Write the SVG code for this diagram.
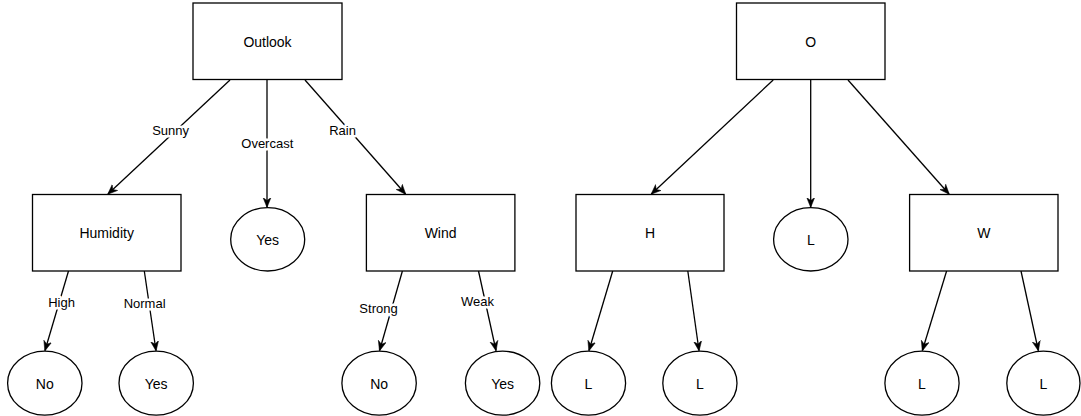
<svg xmlns="http://www.w3.org/2000/svg" width="1081" height="416" viewBox="0 0 1081 416">
<style>
.n{fill:#fff;stroke:#000;stroke-width:1.3}
.t{font-family:"Liberation Sans",Arial,sans-serif;font-size:14px;fill:#000;text-anchor:middle;dominant-baseline:central}
.e{stroke:#000;stroke-width:1.3;fill:none;marker-end:url(#a)}
.l{font-family:"Liberation Sans",Arial,sans-serif;font-size:13px;fill:#000;text-anchor:middle;dominant-baseline:central;stroke:#fff;stroke-width:5;paint-order:stroke;stroke-linejoin:round}
</style>
<defs>
<marker id="a" viewBox="0 0 10 10" refX="9.5" refY="5" markerWidth="10" markerHeight="10" markerUnits="userSpaceOnUse" orient="auto">
<path d="M0,1 L10,5 L0,9 L3,5 Z" fill="#000" stroke="#000" stroke-width="0.5"/>
</marker>
</defs>
<rect width="1081" height="416" fill="#fff"/>
<g id="connectors">
<line class="e" x1="230" y1="80" x2="108" y2="194"/>
<line class="e" x1="267" y1="80" x2="267" y2="207"/>
<line class="e" x1="305" y1="80" x2="405.5" y2="194"/>
<line class="e" x1="68.5" y1="271" x2="45" y2="350.5"/>
<line class="e" x1="144.3" y1="271" x2="156" y2="350.5"/>
<line class="e" x1="402.4" y1="271" x2="379.6" y2="350.5"/>
<line class="e" x1="478.5" y1="271" x2="496" y2="350.5"/>
<line class="e" x1="773.2" y1="80" x2="651.4" y2="194"/>
<line class="e" x1="810.7" y1="80" x2="810.7" y2="207"/>
<line class="e" x1="848" y1="80" x2="949" y2="194"/>
<line class="e" x1="612.7" y1="271" x2="589" y2="350.5"/>
<line class="e" x1="687.8" y1="271" x2="699" y2="350.5"/>
<line class="e" x1="946.6" y1="271" x2="922.4" y2="350.5"/>
<line class="e" x1="1021" y1="271" x2="1038.3" y2="350.5"/>
<text class="l" x="170.6" y="130.5">Sunny</text>
<text class="l" x="267.3" y="143.6">Overcast</text>
<text class="l" x="342.6" y="130">Rain</text>
<text class="l" x="61.6" y="302.6">High</text>
<text class="l" x="144.6" y="303.6">Normal</text>
<text class="l" x="378.5" y="308.8">Strong</text>
<text class="l" x="477.5" y="301.2">Weak</text>
</g>
<g id="outlook"><rect class="n" x="193" y="3" width="149" height="76.5"/><text class="t" x="267.5" y="41.5">Outlook</text></g>
<g id="humidity"><rect class="n" x="32.5" y="194.5" width="148.5" height="76.5"/><text class="t" x="106.7" y="233">Humidity</text></g>
<g id="yes1"><ellipse class="n" cx="267.7" cy="239.3" rx="37" ry="31.7"/><text class="t" x="267.7" y="239.5">Yes</text></g>
<g id="wind"><rect class="n" x="366.4" y="194.5" width="148.5" height="76.5"/><text class="t" x="440.6" y="233">Wind</text></g>
<g id="no1"><ellipse class="n" cx="44.8" cy="383.2" rx="37.2" ry="32"/><text class="t" x="44.8" y="383.5">No</text></g>
<g id="yes2"><ellipse class="n" cx="156.2" cy="383.2" rx="37.2" ry="32"/><text class="t" x="156.2" y="383.5">Yes</text></g>
<g id="no2"><ellipse class="n" cx="379.1" cy="383.2" rx="37.2" ry="32"/><text class="t" x="379.1" y="383.5">No</text></g>
<g id="yes3"><ellipse class="n" cx="502.6" cy="383.2" rx="37.2" ry="32"/><text class="t" x="502.6" y="383.5">Yes</text></g>
<g id="o"><rect class="n" x="736.5" y="3" width="148.5" height="76.5"/><text class="t" x="810.7" y="41.5">O</text></g>
<g id="h"><rect class="n" x="576" y="194.5" width="148" height="76.5"/><text class="t" x="650" y="233">H</text></g>
<g id="l0"><ellipse class="n" cx="810.8" cy="239.3" rx="37.2" ry="31.7"/><text class="t" x="810.8" y="239.5">L</text></g>
<g id="w"><rect class="n" x="909.6" y="194.5" width="148.4" height="76.5"/><text class="t" x="983.8" y="233">W</text></g>
<g id="l1"><ellipse class="n" cx="588.5" cy="383.2" rx="37.1" ry="32"/><text class="t" x="588.5" y="383.5">L</text></g>
<g id="l2"><ellipse class="n" cx="699.9" cy="383.2" rx="37.1" ry="32"/><text class="t" x="699.9" y="383.5">L</text></g>
<g id="l3"><ellipse class="n" cx="922" cy="383.2" rx="37.1" ry="32"/><text class="t" x="922" y="383.5">L</text></g>
<g id="l4"><ellipse class="n" cx="1043.4" cy="383.2" rx="36.6" ry="32"/><text class="t" x="1043.4" y="383.5">L</text></g>
</svg>
